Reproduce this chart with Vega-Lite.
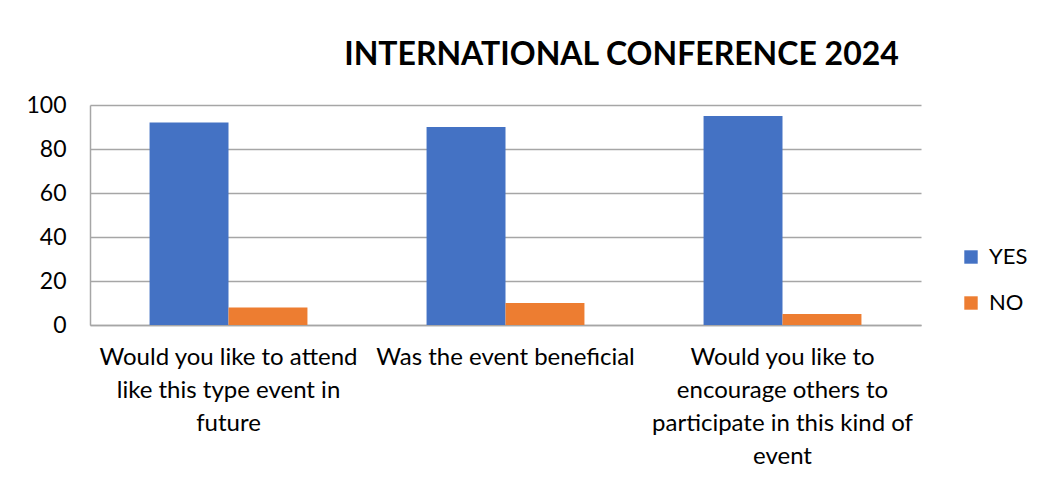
{
  "$schema": "https://vega.github.io/schema/vega-lite/v6.json",
  "autosize": {"type": "none"},
  "padding": {"left": 90, "top": 105, "right": 120, "bottom": 162},
  "width": 831,
  "height": 220,
  "background": "white",
  "title": {
    "text": "INTERNATIONAL CONFERENCE 2024",
    "font": "Lato",
    "fontSize": 32,
    "fontWeight": "bold",
    "color": "#000000",
    "anchor": "middle",
    "dx": 116,
    "offset": 22
  },
  "data": {
    "values": [
      {"question": "Would you like to attend|like this type event in|future", "answer": "YES", "value": 92},
      {"question": "Would you like to attend|like this type event in|future", "answer": "NO", "value": 8},
      {"question": "Was the event beneficial", "answer": "YES", "value": 90},
      {"question": "Was the event beneficial", "answer": "NO", "value": 10},
      {"question": "Would you like to|encourage others to|participate in this kind of|event", "answer": "YES", "value": 95},
      {"question": "Would you like to|encourage others to|participate in this kind of|event", "answer": "NO", "value": 5}
    ]
  },
  "mark": {"type": "bar"},
  "encoding": {
    "x": {
      "field": "question",
      "type": "nominal",
      "sort": null,
      "scale": {"paddingInner": 0.43, "paddingOuter": 0.215},
      "axis": {
        "title": null,
        "labelAngle": 0,
        "labelExpr": "split(datum.label, '|')",
        "labelFont": "Lato",
        "labelFontSize": 24,
        "labelColor": "#000000",
        "labelLineHeight": 33,
        "labelPadding": 20,
        "labelLimit": 400,
        "ticks": false,
        "domainColor": "#A6A6A6",
        "domainWidth": 1.5,
        "grid": false
      }
    },
    "xOffset": {
      "field": "answer",
      "sort": ["YES", "NO"],
      "scale": {"paddingInner": 0, "paddingOuter": 0}
    },
    "y": {
      "field": "value",
      "type": "quantitative",
      "scale": {"domain": [0, 100]},
      "axis": {
        "title": null,
        "values": [0, 20, 40, 60, 80, 100],
        "labelFont": "Lato",
        "labelFontSize": 23,
        "labelColor": "#000000",
        "labelPadding": 24,
        "ticks": false,
        "domainColor": "#A6A6A6",
        "domainWidth": 1.5,
        "gridColor": "#A6A6A6",
        "gridWidth": 1.5
      }
    },
    "color": {
      "field": "answer",
      "type": "nominal",
      "sort": ["YES", "NO"],
      "scale": {"domain": ["YES", "NO"], "range": ["#4472C4", "#ED7D31"]},
      "legend": {
        "title": null,
        "orient": "none",
        "legendX": 870,
        "legendY": 141,
        "symbolType": "square",
        "symbolSize": 180,
        "symbolStrokeWidth": 0,
        "labelFont": "Lato",
        "labelFontSize": 22,
        "labelColor": "#000000",
        "rowPadding": 24,
        "labelOffset": 7
      }
    }
  },
  "config": {
    "view": {"stroke": null},
    "axis": {"labelFont": "Lato"}
  }
}
